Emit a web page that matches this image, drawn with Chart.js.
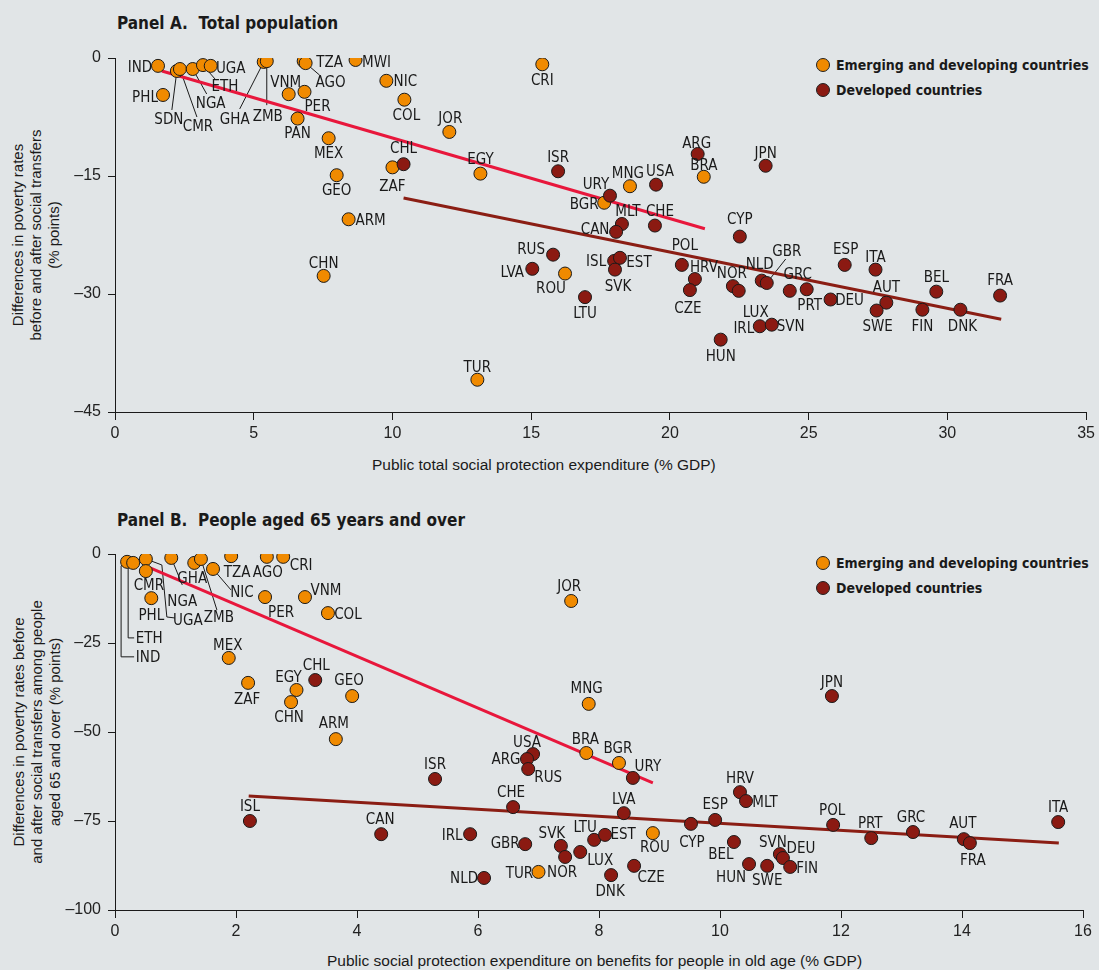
<!DOCTYPE html>
<html>
<head>
<meta charset="utf-8">
<script src="https://cdn.jsdelivr.net/npm/chart.js@4.4.1/dist/chart.umd.min.js"></script>
<style>
    body { margin: 0; background: #e1e5e7; width: 1099px; height: 970px; position: relative; overflow: hidden; font-family: 'Liberation Sans', Arial, sans-serif; color: #1a1a1a; }
    canvas { position: absolute; left: 0; }
    #chartA { top: 0; }
    #chartB { top: 480px; }
    .title { position: absolute; left: 117px; font: bold 17px 'Liberation Sans Narrow', 'DejaVu Sans Condensed', sans-serif; white-space: pre; }
    .legend { position: absolute; left: 816px; font: bold 14px 'Liberation Sans Narrow', 'DejaVu Sans Condensed', sans-serif; white-space: nowrap; }
    .legend div { height: 25px; display: flex; align-items: center; }
    .dot { width: 12px; height: 12px; border-radius: 50%; border: 1px solid #222; margin-right: 6px; flex: none; }
    .xt { position: absolute; font-size: 15.5px; white-space: nowrap; }
    .yt { position: absolute; width: 400px; height: 54px; line-height: 18px; font-size: 15px; text-align: center; transform: rotate(-90deg); white-space: nowrap; }
</style>
</head>
<body>
<div class="title" style="top:13px">Panel A.  Total population</div>
<div class="title" style="top:510px">Panel B.  People aged 65 years and over</div>

<div class="legend" style="top:52px">
    <div><span class="dot" style="background:#f08a00"></span>Emerging and developing countries</div>
    <div><span class="dot" style="background:#8b1a12"></span>Developed countries</div>
</div>
<div class="legend" style="top:550px">
    <div><span class="dot" style="background:#f08a00"></span>Emerging and developing countries</div>
    <div><span class="dot" style="background:#8b1a12"></span>Developed countries</div>
</div>

<div class="yt" style="left:-164px; top:208px">Differences in poverty rates<br>before and after social transfers<br>(% points)</div>
<div class="yt" style="left:-163px; top:705px">Differences in poverty rates before<br>and after social transfers among people<br>aged 65 and over (% points)</div>
<div class="xt" style="left:372px; top:456px">Public total social protection expenditure (% GDP)</div>
<div class="xt" style="left:327px; top:952px">Public social protection expenditure on benefits for people in old age (% GDP)</div>

<canvas id="chartA" width="1099" height="480"></canvas>
<canvas id="chartB" width="1099" height="490"></canvas>

<script>
// ---- Panel A: total population ----
const emergingA = ['IND','PHL','SDN','CMR','NGA','ETH','UGA','GHA','ZMB','TZA','AGO','MWI','VNM','PER','NIC','COL','PAN','MEX','JOR','GEO','ZAF','EGY','ARM','CHN','TUR','ROU','CRI','MNG','BGR','BRA'];
const emergingAx = [1.55,1.73,2.23,2.34,2.8,3.17,3.45,5.36,5.47,6.8,6.87,8.67,6.26,6.83,9.78,10.43,6.58,7.7,12.05,7.99,10.0,13.17,8.42,7.52,13.06,16.22,15.4,18.56,17.63,21.22];
const emergingAy = [-1.0,-4.7,-1.65,-1.4,-1.4,-0.9,-1.0,-0.5,-0.4,-0.4,-0.65,-0.25,-4.6,-4.3,-2.9,-5.3,-7.7,-10.2,-9.4,-14.9,-13.9,-14.7,-20.5,-27.7,-40.9,-27.4,-0.8,-16.3,-18.4,-15.1];

const developedA = ['CHL','ISR','URY','USA','ARG','JPN','MLT','CAN','CHE','CYP','RUS','LVA','ISL','EST','SVK','LTU','POL','HRV','CZE','NOR','LUX','NLD','GBR','GRC','PRT','DEU','IRL','SVN','HUN','ESP','ITA','AUT','SWE','FIN','BEL','DNK','FRA'];
const developedAx = [10.4,15.97,17.84,19.5,21.0,23.45,18.27,18.06,19.46,22.52,15.79,15.04,17.99,18.2,18.02,16.94,20.43,20.9,20.72,22.27,22.48,23.31,23.49,24.32,24.93,25.79,23.24,23.67,21.83,26.3,27.41,27.8,27.45,29.1,29.6,30.47,31.9];
const developedAy = [-13.5,-14.4,-17.5,-16.1,-12.2,-13.7,-21.1,-22.1,-21.3,-22.7,-25.0,-26.8,-25.8,-25.4,-26.9,-30.4,-26.3,-28.1,-29.5,-29.0,-29.6,-28.3,-28.6,-29.6,-29.4,-30.7,-34.1,-33.9,-35.8,-26.3,-26.9,-31.1,-32.1,-32.0,-29.7,-32.0,-30.2];

const trendEmergingA = [[1.69,-1.65],[21.26,-21.7]];
const trendDevelopedA = [[10.4,-17.8],[31.94,-33.2]];
const xTicksA = [0,5,10,15,20,25,30,35];
const yTicksA = [-45,-30,-15,0];

// ---- Panel B: people aged 65 and over ----
const emergingB = ['IND','ETH','UGA','CMR','PHL','NGA','GHA','ZMB','NIC','TZA','AGO','CRI','PER','VNM','COL','MEX','ZAF','EGY','CHN','GEO','ARM','JOR','MNG','BRA','BGR','ROU','TUR'];
const emergingBx = [0.2,0.3,0.51,0.51,0.6,0.93,1.31,1.42,1.62,1.92,2.51,2.78,2.48,3.14,3.52,1.88,2.2,3.0,2.91,3.92,3.65,7.54,7.83,7.79,8.33,8.89,7.0];
const emergingBy = [-2.2,-2.5,-1.4,-4.8,-12.4,-1.1,-2.5,-1.4,-4.2,-0.6,-0.8,-0.8,-12.1,-12.1,-16.6,-29.2,-36.2,-38.2,-41.6,-39.9,-52.0,-13.2,-42.1,-55.9,-58.7,-78.4,-89.3];

const developedB = ['CHL','ISR','USA','ARG','RUS','URY','CHE','LVA','IRL','GBR','SVK','NOR','LUX','LTU','EST','DNK','CZE','NLD','CAN','ISL','CYP','ESP','HRV','MLT','BEL','HUN','SWE','SVN','DEU','FIN','POL','PRT','GRC','AUT','FRA','ITA','JPN'];
const developedBx = [3.31,5.29,6.91,6.81,6.83,8.56,6.58,8.41,5.87,6.78,7.37,7.44,7.69,7.92,8.1,8.2,8.58,6.1,4.4,2.23,9.52,9.92,10.33,10.43,10.23,10.48,10.78,10.99,11.04,11.16,11.87,12.5,13.19,14.03,14.13,15.59,11.85];
const developedBy = [-35.4,-63.2,-56.2,-57.6,-60.4,-62.9,-71.1,-72.8,-78.7,-81.5,-82.0,-85.1,-83.7,-80.3,-78.9,-90.2,-87.6,-91.0,-78.7,-75.0,-75.8,-74.7,-66.9,-69.4,-80.9,-87.1,-87.6,-84.3,-85.4,-87.9,-76.1,-79.8,-78.1,-80.1,-81.2,-75.3,-39.9];

const trendEmergingB = [[0.58,-3.9],[8.89,-64.3]];
const trendDevelopedB = [[2.21,-68.0],[15.6,-81.2]];
const xTicksB = [0,2,4,6,8,10,12,14,16];
const yTicksB = [-100,-75,-50,-25,0];

// label placement (pixel offsets from the marker) and leader lines
const labelOffA = {
    IND:[-18,1], PHL:[-18,2], SDN:[-8,48], CMR:[18,57], NGA:[18,34], ETH:[22,21], UGA:[20,2], GHA:[-29,57], ZMB:[1,55],
    TZA:[26,1], AGO:[25,19], MWI:[21,2], VNM:[-3,-12], PER:[13,14], NIC:[19,0], COL:[2,15], PAN:[0,15], MEX:[0,15],
    JOR:[1,-14], GEO:[0,15], ZAF:[0,19], EGY:[0,-15], ARM:[22,1], CHN:[0,-13], TUR:[0,-13], ROU:[-14,15], CRI:[0,16],
    MNG:[-2,-13], BGR:[-20,1], BRA:[0,-12],
    CHL:[0,-16], ISR:[0,-14], URY:[-14,-12], USA:[4,-14], ARG:[-1,-11], JPN:[0,-13], MLT:[6,-13], CAN:[-21,-3], CHE:[5,-14],
    CYP:[0,-17], RUS:[-22,-6], LVA:[-20,3], ISL:[-18,0], EST:[19,4], SVK:[3,16], LTU:[0,16], POL:[3,-20], HRV:[9,-12],
    CZE:[-2,18], NOR:[-1,-13], LUX:[17,21], NLD:[-2,-17], GBR:[20,-32], GRC:[8,-17], PRT:[3,16], DEU:[19,1], IRL:[-16,2],
    SVN:[19,1], HUN:[0,16], ESP:[1,-16], ITA:[0,-13], AUT:[0,-16], SWE:[1,16], FIN:[0,16], BEL:[0,-15], DNK:[2,16], FRA:[0,-15]
};
const leadersA = {
    SDN:[[-5,39]], CMR:[[17,48]], NGA:[[14,25]], ETH:[[13,15]], GHA:[[-24,47]], ZMB:[[0,44]], AGO:[[14,12]], GBR:[[19,-24]]
};
const labelOffB = {
    IND:[21,95], ETH:[16,75], UGA:[42,61], CMR:[3,14], PHL:[0,17], NGA:[11,43], GHA:[-2,15], ZMB:[18,58], NIC:[29,23],
    TZA:[6,16], AGO:[1,15], CRI:[18,8], PER:[16,15], VNM:[21,-7], COL:[20,1], MEX:[-1,-13], ZAF:[-1,16], EGY:[-8,-13],
    CHN:[-2,15], GEO:[-3,-16], ARM:[-2,-16], JOR:[-2,-15], MNG:[-2,-16], BRA:[-1,-14], BGR:[-1,-15], ROU:[2,14], TUR:[-19,1],
    CHL:[1,-15], ISR:[0,-15], USA:[-6,-12], ARG:[-21,0], RUS:[20,8], URY:[15,-12], CHE:[-2,-15], LVA:[0,-14], IRL:[-18,1],
    GBR:[-20,-1], SVK:[-9,-13], NOR:[-3,15], LUX:[20,8], LTU:[-9,-13], EST:[18,-1], DNK:[-1,16], CZE:[17,11], NLD:[-20,0],
    CAN:[-1,-15], ISL:[0,-15], CYP:[1,18], ESP:[0,-16], HRV:[0,-14], MLT:[19,1], BEL:[-13,12], HUN:[-18,13], SWE:[0,14],
    SVN:[-7,-12], DEU:[18,-10], FIN:[17,1], POL:[-1,-15], PRT:[-1,-15], GRC:[-2,-15], AUT:[-1,-16], FRA:[3,17], ITA:[0,-15], JPN:[0,-14]
};
const leadersB = {
    IND:[[-6,4],[-6,95],[7,95]], ETH:[[-5,3],[-5,75],[1,75]], UGA:[[16,6],[21,58],[29,59]], NGA:[[11,27]], ZMB:[[16,51]], NIC:[[18,21]]
};

const ORANGE = '#f08a00';
const DARKRED = '#8b1a12';
const LABEL_FONT = "15px 'Liberation Sans Narrow', 'DejaVu Sans Condensed', sans-serif";
const TICK_FONT = { family: "'Liberation Sans', Arial, sans-serif", size: 16 };

function toPoints(xs, ys) { return xs.map((x, i) => ({ x: x, y: ys[i] })); }
function dash(v) { return v < 0 ? '\u2013' + Math.abs(v) : String(v); }

function labelPlugin(groups, offsets, leaders) {
    const each = (chart, fn) => {
        const sx = chart.scales.x, sy = chart.scales.y;
        groups.forEach(g => g.codes.forEach((c, i) => fn(c, sx.getPixelForValue(g.xs[i]), sy.getPixelForValue(g.ys[i]))));
    };
    return {
        id: 'countryLabels',
        beforeDatasetsDraw(chart) {
            const ctx = chart.ctx;
            ctx.save();
            ctx.strokeStyle = '#1a1a1a';
            ctx.lineWidth = 1;
            each(chart, (c, px, py) => {
                const path = leaders[c];
                if (!path) return;
                ctx.beginPath();
                ctx.moveTo(px, py);
                path.forEach(p => ctx.lineTo(px + p[0], py + p[1]));
                ctx.stroke();
            });
            ctx.restore();
        },
        afterDatasetsDraw(chart) {
            const ctx = chart.ctx;
            ctx.save();
            ctx.font = LABEL_FONT;
            ctx.fillStyle = '#1a1a1a';
            ctx.textAlign = 'center';
            ctx.textBaseline = 'middle';
            each(chart, (c, px, py) => {
                const o = offsets[c] || [0, -14];
                ctx.fillText(c, px + o[0], py + o[1] + 1);
            });
            ctx.restore();
        }
    };
}

function makePanel(id, cfg) {
    const groups = [
        { codes: cfg.emerging, xs: cfg.ex, ys: cfg.ey },
        { codes: cfg.developed, xs: cfg.dx, ys: cfg.dy }
    ];
    const pointStyle = { pointRadius: 6.5, pointBorderColor: '#1a1a1a', pointBorderWidth: 1, showLine: false };
    return new Chart(document.getElementById(id), {
        type: 'scatter',
        data: {
            datasets: [
                { label: 'Emerging trend', data: cfg.trendE.map(p => ({ x: p[0], y: p[1] })), showLine: true, pointRadius: 0, borderColor: '#e8173c', borderWidth: 3, order: 3 },
                { label: 'Developed trend', data: cfg.trendD.map(p => ({ x: p[0], y: p[1] })), showLine: true, pointRadius: 0, borderColor: '#8b1e14', borderWidth: 3, order: 3 },
                Object.assign({ label: 'Emerging and developing countries', data: toPoints(cfg.ex, cfg.ey), pointBackgroundColor: ORANGE, order: 2 }, pointStyle),
                Object.assign({ label: 'Developed countries', data: toPoints(cfg.dx, cfg.dy), pointBackgroundColor: DARKRED, order: 1 }, pointStyle)
            ]
        },
        options: {
            responsive: false,
            animation: false,
            layout: { padding: { top: cfg.padTop, right: cfg.padRight, left: 0, bottom: 0 } },
            plugins: { legend: { display: false }, tooltip: { enabled: false } },
            scales: {
                x: {
                    type: 'linear', min: cfg.xTicks[0], max: cfg.xTicks[cfg.xTicks.length - 1],
                    afterBuildTicks: s => { s.ticks = cfg.xTicks.map(v => ({ value: v })); },
                    afterFit: s => { s.height = cfg.xHeight; },
                    grid: { drawOnChartArea: false, drawTicks: true, tickLength: 8, color: '#1a1a1a' },
                    border: { display: true, color: '#1a1a1a', width: 1 },
                    ticks: { color: '#222', font: TICK_FONT, padding: 4, maxRotation: 0, callback: dash }
                },
                y: {
                    type: 'linear', min: cfg.yTicks[0], max: cfg.yTicks[cfg.yTicks.length - 1],
                    afterBuildTicks: s => { s.ticks = cfg.yTicks.map(v => ({ value: v })); },
                    afterFit: s => { s.width = 115; },
                    grid: { drawOnChartArea: false, drawTicks: true, tickLength: 7, color: '#1a1a1a' },
                    border: { display: true, color: '#1a1a1a', width: 1 },
                    ticks: { color: '#222', font: TICK_FONT, padding: 7, callback: dash }
                }
            }
        },
        plugins: [labelPlugin(groups, cfg.offsets, cfg.leaders)]
    });
}

makePanel('chartA', {
    emerging: emergingA, ex: emergingAx, ey: emergingAy,
    developed: developedA, dx: developedAx, dy: developedAy,
    trendE: trendEmergingA, trendD: trendDevelopedA,
    xTicks: xTicksA, yTicks: yTicksA,
    offsets: labelOffA, leaders: leadersA,
    padTop: 58, padRight: 11, xHeight: 68
});

makePanel('chartB', {
    emerging: emergingB, ex: emergingBx, ey: emergingBy,
    developed: developedB, dx: developedBx, dy: developedBy,
    trendE: trendEmergingB, trendD: trendDevelopedB,
    xTicks: xTicksB, yTicks: yTicksB,
    offsets: labelOffB, leaders: leadersB,
    padTop: 74, padRight: 16, xHeight: 60
});
</script>
</body>
</html>
